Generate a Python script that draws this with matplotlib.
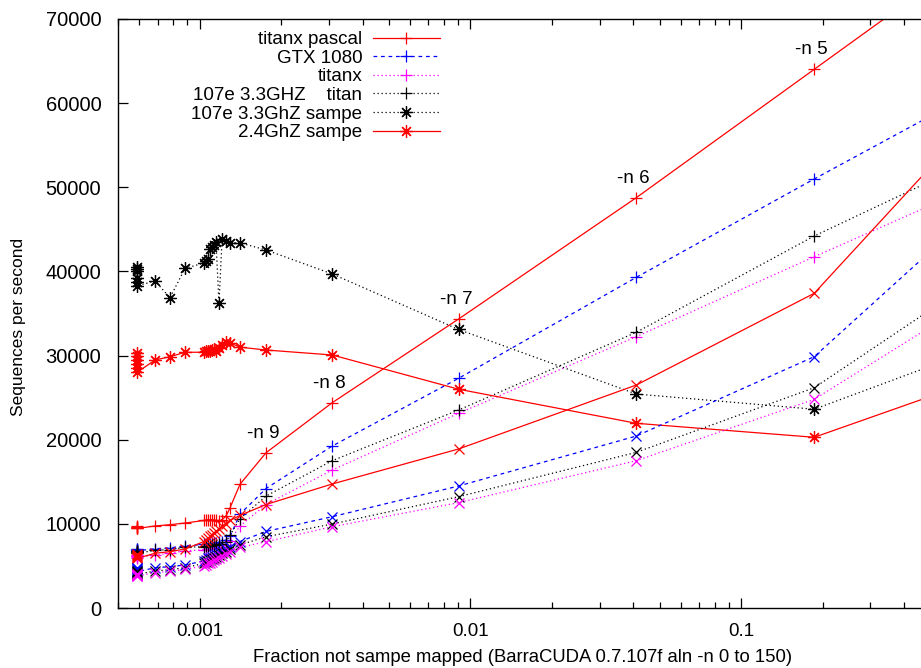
"""BarraCUDA aln throughput vs fraction of reads not mapped by sampe.

gnuplot-looking chart redone in matplotlib: sequences per second for the
GPU runs (+ aln, x sampe-free runs) and the two CPU sampe runs, log x axis.

    python plot.py
"""
import matplotlib
matplotlib.use('Agg')
import matplotlib.pyplot as plt
from matplotlib.ticker import LogLocator, NullFormatter, FixedLocator

# ---- data --------------------------------------------------------------------
# fraction not sampe mapped; the first six are the stacked high -n runs
frac = [0.000588, 0.000588, 0.000588, 0.000588, 0.000588, 0.000588,
        0.000685, 0.000778, 0.000884, 0.001039, 0.001057, 0.001075,
        0.001093, 0.001112, 0.001131, 0.00115, 0.00118, 0.001211,
        0.001252, 0.001296, 0.00141, 0.00176, 0.00309, 0.00905,
        0.0410, 0.186, 0.6]

pascal_p = [9700, 9650, 9600, 9550, 9500, 9450, 9750, 9900, 10100, 10400,
            10450, 10500, 10500, 10500, 10450, 10400, 10300, 10500, 10900,
            11900, 14700, 18450, 24400, 34350, 48770, 64020, 75840]
gtx_p = [7050, 7000, 6950, 6900, 6850, 6800, 7050, 7150, 7400, 7550, 7600,
         7650, 7650, 7700, 7700, 7750, 7800, 7900, 8100, 8500, 11150, 14200,
         19250, 27300, 39300, 50990, 59850]
titanx_p = [6300, 6250, 6200, 6150, 6100, 6000, 6300, 6500, 6800, 6900, 6950,
            7000, 7000, 7050, 7100, 7100, 7200, 7300, 7500, 8000, 9750, 12300,
            16400, 23140, 32250, 41750, 48970]
titan_p = [6800, 6750, 6700, 6600, 6550, 6500, 6850, 6950, 7200, 7300, 7350,
           7400, 7400, 7450, 7500, 7500, 7550, 7650, 7850, 8650, 10600, 13300,
           17510, 23530, 32770, 44210, 51940]
sampe_k = [40500, 40300, 40100, 39200, 38800, 38300, 38860, 36880, 40370,
           41000, 41200, 41500, 42700, 42900, 43100, 43500, 36200, 43800,
           43600, 43400, 43400, 42550, 39700, 33100, 25430, 23620, 29700]
sampe_r = [30300, 29900, 29500, 29000, 28500, 28000, 29470, 29870, 30390,
           30400, 30500, 30600, 30500, 30700, 30800, 30600, 30900, 31200,
           31600, 31500, 31000, 30660, 30070, 26000, 21950, 20290, 26050]

# same cards, second set of runs (no key entry in the original)
pascal_x = [6400, 6300, 6200, 6100, 6000, 5900, 6500, 6700, 7010, 7900, 8100,
            8300, 8500, 8700, 8900, 9100, 9400, 9700, 10000, 10400, 11000,
            12300, 14740, 18900, 26500, 37400, 55190]
gtx_x = [4800, 4700, 4600, 4500, 4400, 4300, 4790, 4910, 5110, 5600, 5750,
         5900, 6000, 6100, 6250, 6400, 6600, 6800, 7000, 7300, 7900, 9100,
         10850, 14500, 20440, 29870, 44710]
titan_x = [4400, 4300, 4200, 4100, 4050, 4000, 4400, 4550, 4800, 5300, 5450,
           5600, 5700, 5800, 5950, 6100, 6300, 6500, 6700, 7000, 7500, 8470,
           9980, 13230, 18500, 26180, 37160]
titanx_x = [4100, 4000, 3950, 3900, 3850, 3800, 4200, 4350, 4600, 5000, 5150,
            5300, 5400, 5500, 5650, 5800, 6000, 6200, 6400, 6700, 7200, 7880,
            9660, 12520, 17510, 24800, 35020]

# -n labels on the titanx pascal curve (index into frac)
n_labels = ['-n 9', '-n 8', '-n 7', '-n 6', '-n 5']
n_index = [21, 22, 23, 24, 25]

yticks = [0, 10000, 20000, 30000, 40000, 50000, 60000, 70000]
xticks = [0.001, 0.01, 0.1]
xtick_labels = ['0.001', '0.01', '0.1']

# ---- style -------------------------------------------------------------------
plt.rcParams['font.family'] = ['Liberation Sans', 'DejaVu Sans']
fs = 13.5
lw = 0.9
dash = (3, 3)
dot = (1, 2.2)
star = (8, 2, 0)   # gnuplot pointtype 3: + and x on top of each other

fig = plt.figure(figsize=(9.21, 6.68), dpi=100)
ax = fig.add_axes([118 / 921, 60 / 668, 1 - 118 / 921, 589 / 668])

series = [
    (pascal_p, 'titanx pascal', 'red', None, '+', 8),
    (gtx_p, 'GTX 1080', 'blue', dash, '+', 8),
    (titanx_p, 'titanx', 'magenta', dot, '+', 8),
    (titan_p, '107e 3.3GHZ    titan', 'black', dot, '+', 8),
    (sampe_k, '107e 3.3GhZ sampe', 'black', dot, star, 9),
    (sampe_r, '2.4GhZ sampe', 'red', None, star, 9),
    (pascal_x, None, 'red', None, 'x', 7),
    (gtx_x, None, 'blue', dash, 'x', 7),
    (titan_x, None, 'black', dot, 'x', 7),
    (titanx_x, None, 'magenta', dot, 'x', 7),
]
for vals, label, col, dashes, mk, ms in series:
    line, = ax.plot(frac, vals, color=col, lw=lw, marker=mk, ms=ms, mew=0.9,
                    label=label if label else '_nolegend_')
    if dashes:
        line.set_dashes(dashes)

for txt, i in zip(n_labels, n_index):
    ax.annotate(txt, (frac[i], pascal_p[i]), xytext=(-2, 14),
                textcoords='offset points', ha='center', va='center',
                fontsize=fs)

# ---- axes --------------------------------------------------------------------
ax.set_xscale('log')
ax.set_xlim(0.0005, 0.461)
ax.set_ylim(0, 70000)
ax.xaxis.set_major_locator(FixedLocator(xticks))
ax.set_xticklabels(xtick_labels)
ax.xaxis.set_minor_locator(LogLocator(base=10, subs=range(2, 10)))
ax.xaxis.set_minor_formatter(NullFormatter())
ax.set_yticks(yticks)
ax.set_yticklabels([str(v) for v in yticks])
ax.tick_params(which='both', direction='in', top=True, right=False,
               labelsize=fs, width=0.9)
ax.tick_params(which='major', length=7)
ax.tick_params(which='minor', length=4)
ax.tick_params(axis='y', pad=12, labelsize=14.5)
ax.tick_params(axis='x', pad=11)
ax.spines['right'].set_visible(False)
for s in ['left', 'bottom', 'top']:
    ax.spines[s].set_linewidth(1.0)

ax.set_xlabel('Fraction not sampe mapped (BarraCUDA 0.7.107f aln -n 0 to 150)',
              fontsize=13.3)
ax.set_ylabel('Sequences per second', fontsize=12.5)
ax.xaxis.set_label_coords(0.504, -0.0696)
ax.yaxis.set_label_coords(-0.1146, 0.477)

leg = ax.legend(loc='upper right', bbox_to_anchor=(440 / 921, 1 - 31 / 668),
                bbox_transform=fig.transFigure, frameon=False, fontsize=fs,
                markerfirst=False, handlelength=3.6, handletextpad=0.55,
                labelspacing=0.08, borderpad=0, borderaxespad=0, numpoints=1)

fig.savefig('out.png', dpi=100)
